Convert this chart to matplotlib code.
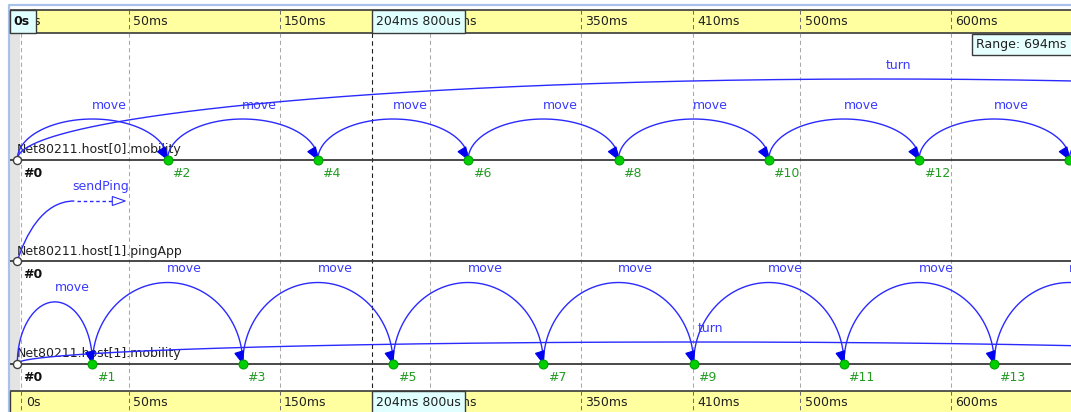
import numpy as np
import matplotlib
matplotlib.use("Agg")
import matplotlib.pyplot as plt
from matplotlib.patches import Rectangle, Polygon, PathPatch
from matplotlib.path import Path

# ---------------- data ----------------
axis_names = ["Net80211.host[0].mobility", "Net80211.host[1].pingApp", "Net80211.host[1].mobility"]
host0_mobility_events = [0, 2, 4, 6, 8, 10, 12, 14]
host1_pingapp_events = [0]
host1_mobility_events = [0, 1, 3, 5, 7, 9, 11, 13]

# self messages (axis index, source event, target event, name)
msg_axis = [0, 0, 0, 0, 0, 0, 0, 0, 0, 2, 2, 2, 2, 2, 2, 2, 2, 2]
msg_from = [0, 2, 4, 6, 8, 10, 12, 14, 0, 0, 1, 3, 5, 7, 9, 11, 13, 0]
msg_to = [2, 4, 6, 8, 10, 12, 14, 16, 23, 1, 3, 5, 7, 9, 11, 13, 15, 18]
msg_name = ["move"] * 8 + ["turn"] + ["move"] * 8 + ["turn"]

# message whose target lies outside the visible range
pending_axis = 1
pending_from = 0
pending_name = "sendPing"

# time ruler (positions in event-number units of the nonlinear axis)
tick_pos = [0.053, 1.486, 3.490, 5.489, 7.501, 8.990, 10.419, 12.422]
tick_labels = ["0s", "50ms", "150ms", "250ms", "350ms", "410ms", "500ms", "600ms"]
cursor_pos = 4.719
cursor_label = "204ms 800us"
start_label = "0s"
range_label = "Range: 694ms"

# ---------------- layout / style ----------------
W, H, DPI = 1071, 412, 100
X0_PX, SX = 17.3, 75.15          # pixel of event 0, pixels per event
AXIS_Y = [159.5, 261.0, 363.5]
HDR_TOP = (9.6, 32.7)
HDR_BOT = (391.0, 412.5)
BLUE_LINE = "#2a2aff"
BLUE_TXT = "#3a3aff"
BLUE_HEAD = "#0000f0"
GREEN_FILL = "#00d000"
GREEN_EDGE = "#00a000"
GREEN_TXT = "#239b23"
YELLOW = "#ffffa0"
CYAN = "#e0ffff"
DARK = "#3a3a3a"
FS = 9
ARC_CAP = {(0, "move"): 40.5, (0, "turn"): 80.5, (2, "move"): 81.0, (2, "turn"): 21.5}

plt.rcParams["font.family"] = ["DejaVu Sans"]

fig = plt.figure(figsize=(W / DPI, H / DPI), dpi=DPI)
ax = fig.add_axes([0, 0, 1, 1])
ax.set_xlim(-X0_PX / SX, (W - X0_PX) / SX)
ax.set_ylim(H, 0)
ax.axis("off")


def X(px):
    return (px - X0_PX) / SX


def DX(dpx):
    return dpx / SX


def PX(x):
    return x * SX + X0_PX


XR = X(W + 5)

# outer frame and gray left strip
ax.plot([X(8.8), X(8.8), XR], [H + 2, 5.0, 5.0], color="#a9c2ea", lw=1.6, zorder=1,
        solid_capstyle="butt")
ax.add_patch(Rectangle((X(9.6), HDR_TOP[1]), DX(10), HDR_BOT[0] - HDR_TOP[1],
                       fc="#e4e4e4", ec="none", zorder=0.5))

# grid lines
ax.vlines(tick_pos, HDR_TOP[1], HDR_BOT[0], colors="#a8a8a8", lw=0.75,
          linestyles=(0, (4, 3)), zorder=1)
ax.vlines([cursor_pos], HDR_TOP[1], HDR_BOT[0], colors="#202020", lw=0.8,
          linestyles=(0, (4, 3)), zorder=1.1)

# axes lines and names
for i, name in enumerate(axis_names):
    ax.hlines(AXIS_Y[i], X(10), XR, colors=DARK, lw=1.3, zorder=2)
    ax.text(X(17), AXIS_Y[i] - 6, name, fontsize=FS, color="#202020",
            va="baseline", ha="left", zorder=3)


def arrowhead(tx, ty, fx, fy, L=12.0, Wd=4.5, fc=BLUE_HEAD, ec=BLUE_HEAD, z=5):
    dxp = (tx - fx) * SX
    dyp = ty - fy
    n = np.hypot(dxp, dyp)
    ux, uy = dxp / n, dyp / n
    bx, by = -ux * L, -uy * L
    nx, ny = -uy * Wd, ux * Wd
    pts = [(tx, ty), (tx + DX(bx + nx), ty + by + ny), (tx + DX(bx - nx), ty + by - ny)]
    ax.add_patch(Polygon(pts, closed=True, fc=fc, ec=ec, lw=0.8, zorder=z))


# self-message arcs
t = np.linspace(0, np.pi, 400)
for a_i, s, e, name in zip(msg_axis, msg_from, msg_to, msg_name):
    y0 = AXIS_Y[a_i]
    cx = (s + e) / 2.0
    a = (e - s) / 2.0
    h = min(ARC_CAP[(a_i, name)], 0.82 * (e - s) * SX)
    xs = cx - a * np.cos(t)
    ys = y0 - h * np.sin(t)
    ax.plot(xs, ys, color=BLUE_LINE, lw=1.0, zorder=4)
    lx = cx + DX(17)
    if PX(lx) - 17 < W:
        ax.text(lx, y0 - h - 10.5, name, fontsize=FS, color=BLUE_TXT,
                ha="center", va="baseline", zorder=4)
    if e <= XR:
        tb = np.pi - np.radians(37)
        arrowhead(e, y0, cx - a * np.cos(tb), y0 - h * np.sin(tb))

# message sent to an event beyond the visible range
y0 = AXIS_Y[pending_axis]
x0 = pending_from
verts = [(x0, y0), (x0 + DX(8), y0 - 25), (x0 + DX(25), y0 - 60), (x0 + DX(57), y0 - 60)]
ax.add_patch(PathPatch(Path(verts, [Path.MOVETO, Path.CURVE4, Path.CURVE4, Path.CURVE4]),
                       fc="none", ec=BLUE_LINE, lw=1.0, zorder=4))
ax.plot([x0 + DX(60), x0 + DX(95)], [y0 - 60, y0 - 60], color=BLUE_LINE, lw=1.0,
        ls=(0, (2.5, 2.0)), zorder=4)
arrowhead(x0 + DX(108), y0 - 60, x0 + DX(90), y0 - 60, L=13.0, Wd=4.5, fc="white",
          ec=BLUE_LINE)
ax.text(x0 + DX(83.5), y0 - 71.5, pending_name, fontsize=FS, color=BLUE_TXT,
        ha="center", va="baseline", zorder=4)

# events
for a_i, evs in enumerate([host0_mobility_events, host1_pingapp_events, host1_mobility_events]):
    y0 = AXIS_Y[a_i]
    for n in evs:
        if n == 0:
            ax.plot([n], [y0], "o", ms=5.8, mfc="white", mec="#404040", mew=1.0, zorder=6)
            ax.text(n + DX(6), y0 + 17.5, "#0", fontsize=FS, fontweight="bold",
                    color="#101010", va="baseline", zorder=6)
        else:
            ax.plot([n], [y0], "o", ms=6.4, mfc=GREEN_FILL, mec=GREEN_EDGE, mew=0.8, zorder=6)
            if PX(n) + 4.5 < W - 2:
                ax.text(n + DX(4.5), y0 + 17.5, f"#{n}", fontsize=FS, color=GREEN_TXT,
                        va="baseline", zorder=6)

# time rulers (top and bottom)
for (y_a, y_b), top in [(HDR_TOP, True), (HDR_BOT, False)]:
    ax.add_patch(Rectangle((X(10), y_a), XR - X(10), y_b - y_a, fc=YELLOW, ec="none", zorder=10))
    for yy in ([y_a, y_b] if top else [y_a]):
        ax.hlines(yy, X(10), XR, colors=DARK, lw=1.2, zorder=11)
    ax.vlines(X(10.3), y_a, y_b, colors=DARK, lw=1.0, zorder=11)
    ax.vlines(tick_pos, y_a, y_b, colors="#707070", lw=0.75, linestyles=(0, (4, 3)), zorder=11)
    yc = (y_a + y_b) / 2 + 0.5
    for p, lab in zip(tick_pos, tick_labels):
        ax.text(p + DX(4.5), yc, lab, fontsize=FS, color="#202020", va="center",
                ha="left", zorder=11)
    ax.add_patch(Rectangle((cursor_pos, y_a), DX(93), y_b - y_a, fc=CYAN, ec=DARK,
                           lw=1.0, zorder=12))
    ax.text(cursor_pos + DX(4), yc, cursor_label, fontsize=FS, color="#202020",
            va="center", ha="left", zorder=13)
    if top:
        ax.add_patch(Rectangle((X(10.3), y_a), DX(25.2), y_b - y_a, fc=CYAN, ec=DARK,
                               lw=1.0, zorder=12))
        ax.text(X(13.5), yc, start_label, fontsize=FS, fontweight="bold", color="#101010",
                va="center", ha="left", zorder=13)

# range box
ax.add_patch(Rectangle((X(972), 33.5), DX(110), 21.5, fc="#e6ffff", ec=DARK, lw=1.0, zorder=12))
ax.text(X(976.5), 44.5, range_label, fontsize=FS, color="#202020", va="center",
        ha="left", zorder=13)

fig.savefig("out.png", dpi=DPI)
